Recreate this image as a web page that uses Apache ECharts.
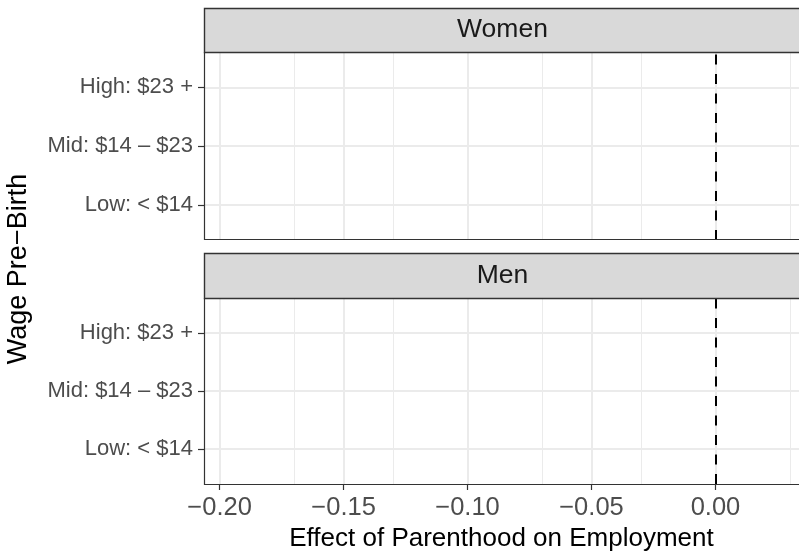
<!DOCTYPE html>
<html><head><meta charset="utf-8">
<script src="https://cdn.jsdelivr.net/npm/echarts@6/dist/echarts.min.js"></script>
<style>html,body{margin:0;padding:0;background:#fff}#c{width:799px;height:553px}</style>
</head><body><div id="c"></div>
<script>
// ---- data ----
const facets = ["Women", "Men"];
const categories = ["Low: < $14", "Mid: $14 \u2013 $23", "High: $23 +"];
const xTicks = [-0.20, -0.15, -0.10, -0.05, 0.00];
const xMinorTicks = [-0.175, -0.125, -0.075, -0.025, 0.025];
const referenceX = 0.00;
const effectsWomen = []; // no estimates drawn in the reference
const effectsMen = [];
const xRange = [-0.2063, 0.0337];
const xTitle = "Effect of Parenthood on Employment";
const yTitle = "Wage Pre\u2212Birth";

// ---- layout ----
const FONT = "'Liberation Sans', Arial, Helvetica, sans-serif";
const L = 204, W = 597;
const panels = [
  {top: 52, height: 188, stripTop: 8, stripH: 44, data: effectsWomen},
  {top: 298, height: 187, stripTop: 253, stripH: 45, data: effectsMen}
];
const catPos = categories.map((c, i) => i + 1);
const fmt = v => (v < 0 ? '\u2212' : '') + Math.abs(v).toFixed(2);

const grid = [], xAxis = [], yAxis = [], series = [], graphic = [];
panels.forEach((p, i) => {
  const last = i === panels.length - 1;
  grid.push({left: L, top: p.top, width: W, height: p.height, containLabel: false});
  xAxis.push({
    type: 'value', gridIndex: i, min: xRange[0], max: xRange[1],
    axisLine: {show: false, onZero: false}, splitLine: {show: false},
    axisTick: {show: last, customValues: xTicks, length: 6, lineStyle: {color: '#333333', width: 1.2}},
    axisLabel: {show: last, customValues: xTicks, formatter: fmt, color: '#4D4D4D', fontSize: 25.5, fontFamily: FONT, margin: 11},
    name: last ? xTitle : '', nameLocation: 'middle', nameGap: 42,
    nameTextStyle: {color: '#000', fontSize: 26, fontFamily: FONT}
  });
  yAxis.push({
    type: 'value', gridIndex: i, min: 0.4, max: categories.length + 0.6,
    axisLine: {show: false, onZero: false}, splitLine: {show: false},
    axisTick: {show: true, customValues: catPos, length: 6, lineStyle: {color: '#333333', width: 1.2}},
    axisLabel: {show: true, customValues: catPos, formatter: v => categories[Math.round(v) - 1] || '',
      color: '#4D4D4D', fontSize: 22, fontFamily: FONT, margin: 11}
  });
  const ml = [];
  xMinorTicks.forEach(v => ml.push({xAxis: v, lineStyle: {color: '#EBEBEB', width: 1, type: 'solid'}}));
  xTicks.forEach(v => ml.push({xAxis: v, lineStyle: {color: '#EBEBEB', width: 2, type: 'solid'}}));
  catPos.forEach(v => ml.push({yAxis: v, lineStyle: {color: '#EBEBEB', width: 2, type: 'solid'}}));
  series.push({
    type: 'scatter', xAxisIndex: i, yAxisIndex: i, name: facets[i],
    data: p.data.map(d => [d.value, categories.indexOf(d.category) + 1]),
    symbolSize: 8, itemStyle: {color: '#000'},
    markLine: {silent: true, symbol: ['none', 'none'], label: {show: false}, data: ml, z: 1}
  });
  series.push({
    type: 'scatter', xAxisIndex: i, yAxisIndex: i, data: [], z: 3,
    markLine: {silent: true, symbol: ['none', 'none'], label: {show: false},
      data: [{xAxis: referenceX, lineStyle: {color: '#000', width: 2, type: [10, 9.5]}}]}
  });
  // panel border
  graphic.push({type: 'rect', z: 100, silent: true,
    shape: {x: L + 0.5, y: p.top + 0.5, width: W, height: p.height - 1},
    style: {fill: 'none', stroke: '#333333', lineWidth: 1.2}});
  // strip
  graphic.push({type: 'rect', z: 101, silent: true,
    shape: {x: L + 0.5, y: p.stripTop + 0.5, width: W, height: p.stripH},
    style: {fill: '#D9D9D9', stroke: '#333333', lineWidth: 1.4}});
  graphic.push({type: 'text', z: 102, silent: true, x: 502.5, y: p.stripTop + p.stripH / 2,
    style: {text: facets[i], fill: '#1A1A1A', font: '26.5px ' + FONT, textAlign: 'center', textVerticalAlign: 'middle'}});
});
graphic.push({type: 'text', z: 102, silent: true, x: 19, y: 269, rotation: Math.PI / 2,
  style: {text: yTitle, fill: '#000', font: '27px ' + FONT, textAlign: 'center', textVerticalAlign: 'middle'}});

const chart = echarts.init(document.getElementById('c'), null, {renderer: 'canvas'});
chart.setOption({animation: false, backgroundColor: '#fff', grid, xAxis, yAxis, series, graphic});
</script></body></html>
